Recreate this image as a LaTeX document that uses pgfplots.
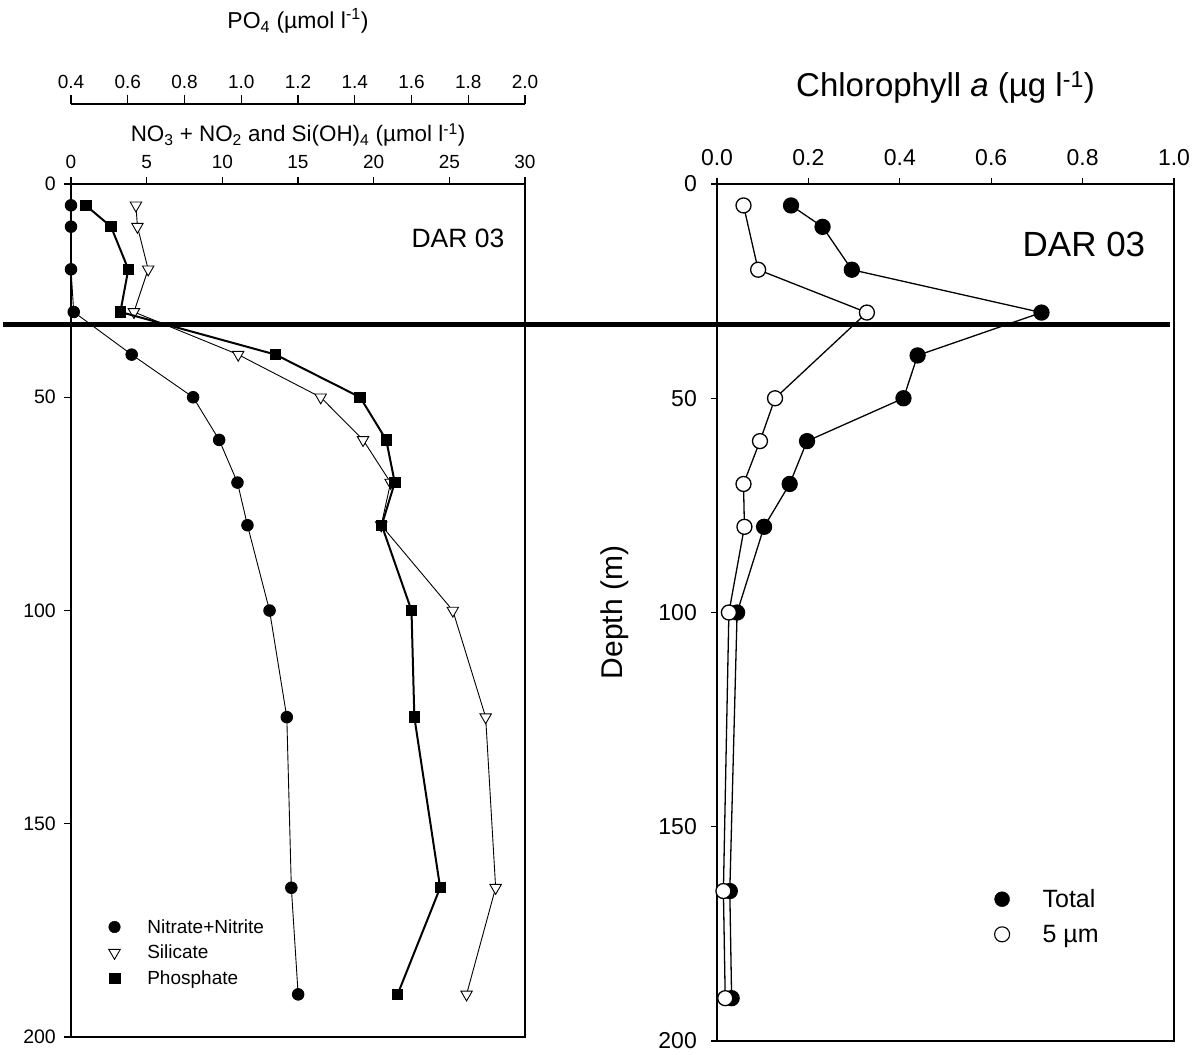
\documentclass[border=0pt]{standalone}
\usepackage{pgfplots}
\pgfplotsset{compat=1.18}
\usepackage{fontspec}
\setmainfont{Liberation Sans}

\newcommand{\umol}{µmol l\textsuperscript{-1}}
\newcommand{\fs}[1]{\fontsize{#1bp}{#1bp}\selectfont}

% depth profiles: one table per series (depth in m)
\pgfplotstableread{
depth val
5   0.00
10  0.00
20  0.00
30  0.18
40  4.01
50  8.07
60  9.79
70  11.00
80  11.66
100 13.12
125 14.26
165 14.56
190 15.01
}\nitrate
\pgfplotstableread{
depth val
5   4.29
10  4.39
20  5.10
30  4.16
40  11.05
50  16.50
60  19.30
70  21.12
80  20.50
100 25.23
125 27.40
165 28.06
190 26.14
}\silicate
\pgfplotstableread{
depth val
5   0.452
10  0.541
20  0.602
30  0.574
40  1.121
50  1.419
60  1.511
70  1.541
80  1.495
100 1.600
125 1.610
165 1.701
190 1.551
}\phosphate
\pgfplotstableread{
depth val
5   0.162
10  0.231
20  0.295
30  0.710
40  0.439
50  0.408
60  0.197
70  0.159
80  0.103
100 0.044
165 0.028
190 0.032
}\chltotal
\pgfplotstableread{
depth val
5   0.058
20  0.090
30  0.328
50  0.127
60  0.094
70  0.058
80  0.060
100 0.026
165 0.014
190 0.018
}\chlfive

\begin{document}
\begin{tikzpicture}
\useasboundingbox (0bp,0bp) rectangle (1201bp,-1055bp);

\pgfplotsset{
  profile/.style={
    scale only axis, y dir=reverse, ymin=0, ymax=200,
    ytick={0,50,...,200}, tick align=outside,
    xtick pos=right, xticklabel pos=right, ytick pos=left,
    axis line style={line width=1.2bp}, every tick/.style={line width=1.2bp, black},
    /pgf/number format/assume math mode=true,
    xticklabel style={inner sep=0pt},
    yticklabel style={inner sep=0pt},
  },
}

% nitrate + nitrite and silicate
\begin{axis}[profile,
  at={(71bp,-184bp)}, anchor=north west, width=454bp, height=853bp,
  xmin=0, xmax=30, xtick={0,5,...,30},
  major tick length=7bp,
  xticklabel style={font=\fs{19}},
  yticklabel style={font=\fs{19.5}},
  xticklabel shift=8bp, yticklabel shift=8bp,
  xlabel={NO\textsubscript{3} + NO\textsubscript{2} and Si(OH)\textsubscript{4} (\umol)},
  xlabel style={font=\fs{22.4}, at={(axis description cs:0.5,1)}, anchor=center, yshift=49bp},
  legend style={draw=none, fill=none, inner sep=0pt,
    at={(axis cs:2.48,171.9)}, anchor=north west, row sep=6.5bp, column sep=25bp,
    font=\fs{19}},
  legend cell align=left,
]
\addlegendimage{only marks, mark=*, mark size=5.8bp, fill=black}
\addlegendentry{Nitrate+Nitrite}
\addlegendimage{only marks, mark=triangle*, mark size=6.6bp, mark options={rotate=180, fill=white, draw=black, line width=0.9bp}}
\addlegendentry{Silicate}
\addlegendimage{only marks, mark=square*, mark size=5.2bp, fill=black}
\addlegendentry{Phosphate}
\addplot[forget plot, black, line width=0.9bp, mark=*, mark size=5.8bp, mark options={fill=black}]
  table[x=val, y=depth] {\nitrate};
\addplot[forget plot, black, line width=0.9bp, mark=triangle*, mark size=6.6bp, mark options={rotate=180, fill=white, draw=black}]
  table[x=val, y=depth] {\silicate};
\node[font=\fs{26.5}] at (axis cs:25.57,12.7) {DAR 03};
\end{axis}

% phosphate, drawn on the same box against the PO4 scale
\begin{axis}[profile,
  at={(71bp,-184bp)}, anchor=north west, width=454bp, height=853bp,
  xmin=0.4, xmax=2.0, hide x axis, hide y axis,
]
\addplot[black, line width=2bp, mark=square*, mark size=5.2bp, mark options={fill=black, line width=0.9bp}]
  table[x=val, y=depth] {\phosphate};
\end{axis}

% PO4 scale above
\begin{axis}[
  scale only axis, at={(71bp,-104bp)}, anchor=north west, width=454bp, height=1bp,
  xmin=0.4, xmax=2.0, ymin=0, ymax=1, xtick={0.4,0.6,...,2.0},
  axis x line*=top, hide y axis, tick align=outside,
  axis line style={line width=1.2bp}, every tick/.style={line width=1.2bp, black},
  major tick length=8.6bp,
  /pgf/number format/assume math mode=true,
  xticklabel style={inner sep=0pt, font=\fs{19}, /pgf/number format/fixed, /pgf/number format/fixed zerofill, /pgf/number format/precision=1},
  xticklabel shift=7bp,
  xlabel={PO\textsubscript{4} (\umol)},
  xlabel style={font=\fs{23}, at={(axis description cs:0.5,1)}, anchor=center, yshift=83bp},
]
\end{axis}

% chlorophyll a
\begin{axis}[profile,
  at={(717bp,-184bp)}, anchor=north west, width=457bp, height=857bp,
  xmin=0, xmax=1, xtick={0,0.2,...,1.0},
  major tick length=6bp,
  ticklabel style={font=\fs{23}},
  xticklabel style={/pgf/number format/fixed, /pgf/number format/fixed zerofill, /pgf/number format/precision=1},
  xticklabel shift=12bp, yticklabel shift=14bp,
  xlabel={Chlorophyll \textit{a} (µg l\textsuperscript{-1})},
  xlabel style={font=\fs{33}, at={(axis description cs:0.5,1)}, anchor=center, yshift=97bp},
  ylabel={Depth (m)},
  ylabel style={font=\fs{30}, at={(axis description cs:0,0.5)}, anchor=center, yshift=102bp},
  legend style={draw=none, fill=none, inner sep=0pt,
    at={(axis cs:0.607,164.1)}, anchor=north west, row sep=12bp, column sep=31bp,
    font=\fs{25}},
  legend cell align=left,
]
\addlegendimage{only marks, mark=*, mark size=7.5bp, fill=black}
\addlegendentry{Total}
\addlegendimage{only marks, mark=*, mark size=7.5bp, mark options={fill=white, draw=black, line width=1.1bp}}
\addlegendentry{5 µm}
\addplot[forget plot, black, line width=1.3bp, mark=*, mark size=7.5bp, mark options={fill=black}]
  table[x=val, y=depth] {\chltotal};
\addplot[forget plot, black, line width=1.3bp, mark=*, mark size=7.5bp, mark options={fill=white, draw=black}]
  table[x=val, y=depth] {\chlfive};
\node[font=\fs{35}] at (axis cs:0.803,14.0) {DAR 03};
\end{axis}

% mixed-layer depth marker across both profiles
\draw[line width=5bp] (3bp,-324bp) -- (1170bp,-324bp);
\end{tikzpicture}
\end{document}
